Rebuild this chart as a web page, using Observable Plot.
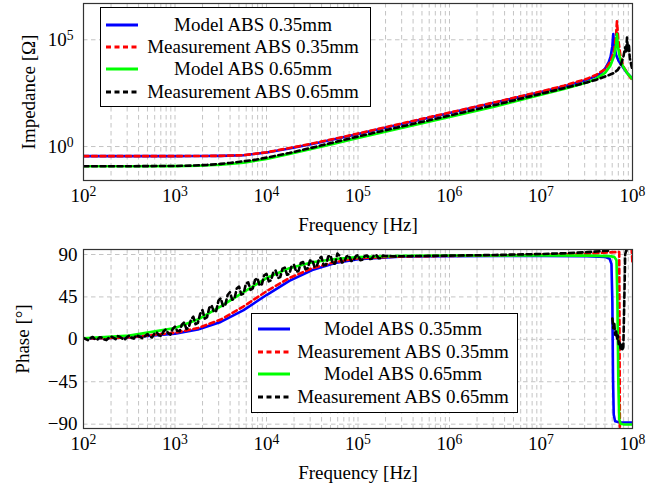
<!DOCTYPE html>
<html><head><meta charset="utf-8">
<script src="https://cdn.jsdelivr.net/npm/d3@7"></script>
<script src="https://cdn.jsdelivr.net/npm/@observablehq/plot@0.6"></script>
<style>
body{margin:0;background:#fff;}
#wrap{position:relative;width:664px;height:486px;font-family:"Liberation Serif",serif;overflow:hidden;}
.panel{position:absolute;left:0;}
.legend{position:absolute;background:#fff;border:1px solid #000;box-sizing:border-box;font-size:19px;color:#000;}
.legend .row{position:absolute;left:0;right:0;height:22px;}
.legend svg{position:absolute;top:0;}
.legend span{position:absolute;top:0;line-height:22px;white-space:nowrap;transform:translateX(-50%);}
</style></head>
<body><div id="wrap"></div>
<script>
// ---------- data ----------
const seriesNames = ["Model ABS 0.35mm", "Measurement ABS 0.35mm", "Model ABS 0.65mm", "Measurement ABS 0.65mm"];
const seriesColors = ["#0000ff", "#ff0000", "#00ff00", "#000000"];
const seriesDash = [null, "5,3.5", null, "5,3.5"];
const xTickExponents = [2, 3, 4, 5, 6, 7, 8];
const impedanceTickExponents = [0, 5];
const phaseTicks = [-90, -45, 0, 45, 90];

// Impedance |Z| [Ohm] vs log10(frequency)
const zLogF_model035 = [2, 2.5, 3, 3.25, 3.5, 3.75, 4, 4.25, 4.5, 4.75, 5, 5.5, 6, 6.5, 7, 7.25, 7.5, 7.6, 7.65, 7.7, 7.74, 7.76, 7.78, 7.79, 7.80, 7.82, 7.85, 7.89, 7.94, 8];
const zModel035 = [0.355, 0.355, 0.356, 0.358, 0.365, 0.389, 0.525, 0.813, 1.32, 2.24, 3.89, 12.0, 37.2, 115, 355, 646, 1318, 1995, 2692, 4467, 8913, 15849, 50119, 186209, 56234, 19953, 10000, 5623, 2818, 1514];

const zLogF_meas035 = [2, 2.5, 3, 3.5, 3.75, 4, 4.25, 4.5, 4.75, 5, 5.5, 6, 6.5, 7, 7.25, 7.5, 7.6, 7.7, 7.76, 7.8, 7.82, 7.83, 7.845, 7.87, 7.9, 7.95, 8];
const zMeas035 = [0.355, 0.355, 0.356, 0.366, 0.394, 0.537, 0.851, 1.38, 2.34, 4.07, 12.6, 38.9, 120, 380, 708, 1479, 2239, 4169, 9550, 31623, 158489, 724436, 100000, 15849, 5623, 2512, 1202];

const zLogF_model065 = [2, 2.5, 3, 3.25, 3.5, 3.75, 4, 4.25, 4.5, 4.75, 5, 5.5, 6, 6.5, 7, 7.25, 7.5, 7.6, 7.7, 7.76, 7.8, 7.82, 7.83, 7.84, 7.86, 7.89, 7.94, 8];
const zModel065 = [0.120, 0.120, 0.121, 0.126, 0.140, 0.174, 0.263, 0.447, 0.794, 1.41, 2.51, 7.76, 24.0, 75.9, 269, 501, 1000, 1479, 2818, 6310, 17783, 56234, 186209, 50119, 15849, 6310, 2818, 1445];

const zLogF_meas065 = [2, 2.5, 3, 3.2, 3.35, 3.5, 3.6, 3.75, 3.85, 4, 4.25, 4.5, 4.75, 5, 5.5, 6, 6.5, 7, 7.25, 7.5, 7.6, 7.7, 7.75, 7.8, 7.84, 7.87, 7.9, 7.92, 7.93, 7.94, 7.95, 7.96, 7.97, 7.98, 7.99, 8];
const zMeas065 = [0.120, 0.120, 0.123, 0.129, 0.138, 0.155, 0.170, 0.204, 0.229, 0.302, 0.501, 0.891, 1.62, 2.95, 9.12, 28.2, 89.1, 295, 537, 1000, 1318, 1905, 2291, 2818, 3981, 6310, 15849, 44668, 25119, 125893, 31623, 63096, 14125, 8913, 5623, 3981];

// Phase [deg] vs log10(frequency)
const pLogF_model035 = [2, 2.5, 3, 3.25, 3.5, 3.75, 4, 4.25, 4.5, 4.75, 5, 5.5, 6, 6.5, 7, 7.5, 7.7, 7.75, 7.77, 7.78, 7.787, 7.795, 7.81, 7.85, 8];
const pModel035 = [0.6, 1.9, 6, 10.5, 18.5, 31, 47, 62, 73.5, 81, 85, 87.8, 88.3, 88.4, 88.4, 88.2, 87.5, 85.5, 80, 40, -40, -80, -87, -88, -88.3];

const pLogF_meas035 = [2, 2.5, 3, 3.25, 3.5, 3.75, 4, 4.25, 4.5, 4.75, 5, 5.5, 6, 6.5, 7, 7.5, 7.7, 7.8, 7.855, 7.862, 7.93, 7.99, 8];
const pMeas035 = [0.7, 2.2, 7, 12, 21, 35, 51, 65, 75.5, 82, 86, 88, 88.5, 89, 89.8, 90.8, 92, 92.5, 92.5, -95.5, NaN, 97, 80];

const pLogF_model065 = [2, 2.5, 3, 3.25, 3.5, 3.75, 4, 4.25, 4.5, 4.75, 5, 5.5, 6, 7, 7.5, 7.75, 7.8, 7.825, 7.835, 7.845, 7.855, 7.87, 7.9, 8];
const pModel065 = [1.2, 3.9, 12, 21, 35, 50, 65, 75.5, 81.7, 85.3, 87.3, 88.6, 89, 89, 88.8, 88.3, 87.5, 84, 40, -45, -85, -89.5, -90.2, -90.3];

const pLogF_meas065 = [
  2.000, 2.025, 2.050, 2.075, 2.100, 2.125, 2.150, 2.175, 2.200, 2.225, 2.250, 2.275, 2.300, 2.325, 2.350, 2.375, 2.400, 2.425, 2.450, 2.475,
  2.500, 2.525, 2.550, 2.575, 2.600, 2.625, 2.650, 2.675, 2.700, 2.725, 2.750, 2.775, 2.800, 2.825, 2.850, 2.875, 2.900, 2.925, 2.950, 2.975,
  3.000, 3.025, 3.050, 3.075, 3.100, 3.125, 3.150, 3.175, 3.200, 3.225, 3.250, 3.275, 3.300, 3.325, 3.350, 3.375, 3.400, 3.425, 3.450, 3.475,
  3.500, 3.525, 3.550, 3.575, 3.600, 3.625, 3.650, 3.675, 3.700, 3.725, 3.750, 3.775, 3.800, 3.825, 3.850, 3.875, 3.900, 3.925, 3.950, 3.975,
  4.000, 4.025, 4.050, 4.075, 4.100, 4.125, 4.150, 4.175, 4.200, 4.225, 4.250, 4.275, 4.300, 4.325, 4.350, 4.375, 4.400, 4.425, 4.450, 4.475,
  4.500, 4.525, 4.550, 4.575, 4.600, 4.625, 4.650, 4.675, 4.700, 4.725, 4.750, 4.775, 4.800, 4.825, 4.850, 4.875, 4.900, 4.925, 4.950, 4.975,
  5.000, 5.025, 5.050, 5.075, 5.100, 5.125, 5.150, 5.175, 5.200, 5.225, 5.250, 5.275, 5.300,
  5.40, 5.60, 6.00, 6.50, 7.00, 7.30, 7.50, 7.65, 7.75, 7.77,
  7.78, 7.79, 7.80, 7.81, 7.82, 7.83, 7.84, 7.85, 7.86, 7.87, 7.88, 7.89, 7.90, 7.91, 7.92, 7.93, 7.95];
const pMeas065 = [
  1.5, 0.3, -1.0, 1.2, 2.5, 0.0, -0.5, 2.2, 1.8, -0.2, -0.8, 1.5, 3.0, 1.8, 0.2, 3.4, 2.6, 0.6, -0.4, 2.4,
  4.0, 1.6, 0.8, 4.4, 3.5, 2.2, 1.0, 3.6, 5.5, 2.8, 2.0, 6.0, 7.5, 4.2, 3.5, 8.5, 10.5, 6.5, 5.0, 11.0,
  13.5, 9.0, 8.5, 15.5, 18.0, 11.0, 12.5, 21.0, 24.0, 16.0, 17.5, 27.0, 31.0, 22.0, 23.5, 33.5, 36.0, 29.0, 30.0, 41.0,
  43.5, 35.0, 36.5, 47.0, 50.0, 42.0, 43.0, 54.0, 56.0, 47.5, 48.5, 59.0, 60.5, 52.5, 54.0, 63.0, 65.0, 57.0, 58.5, 68.0,
  69.5, 61.5, 62.5, 71.5, 73.0, 65.0, 66.0, 75.0, 76.0, 68.5, 69.5, 78.0, 79.0, 71.5, 72.5, 81.0, 82.0, 74.5, 75.5, 83.5,
  84.0, 77.0, 77.5, 85.5, 87.5, 78.5, 79.0, 88.0, 89.0, 80.0, 80.5, 91.0, 88.5, 81.5, 82.0, 88.0, 89.0, 83.0, 83.5, 88.0,
  89.5, 84.0, 84.5, 88.5, 89.0, 85.0, 85.5, 89.0, 89.5, 86.0, 86.0, 89.0, 88.5,
  88.0, 88.3, 88.8, 89.5, 90.5, 91.5, 92.5, 93.5, 94.0, NaN,
  22, 12, 18, 5, 10, 0, 4, -5, -2, -10, -6, -12, -8, 40, 90, 94, 94];

// ---------- build tables ----------
const toRows = (logF, vals) => logF.map((lf, i) => ({f: Math.pow(10, lf), v: vals[i]}));
const zSeries = [toRows(zLogF_model035, zModel035), toRows(zLogF_meas035, zMeas035), toRows(zLogF_model065, zModel065), toRows(zLogF_meas065, zMeas065)];
const pSeries = [toRows(pLogF_model035, pModel035), toRows(pLogF_meas035, pMeas035), toRows(pLogF_model065, pModel065), toRows(pLogF_meas065, pMeas065)];

const xTicks = xTickExponents.map(e => Math.pow(10, e));
const xMinor = [];
for (let e = xTickExponents[0]; e < xTickExponents[xTickExponents.length - 1]; e++)
  for (let m = 2; m <= 9; m++) xMinor.push(m * Math.pow(10, e));
const powFmt = d => "10^" + Math.round(Math.log10(d));

const gridStyle = {stroke: "#c4c4c4", strokeDasharray: "4.5,3.5", strokeWidth: 1};
const lineMarks = (series) => series.map((rows, i) => Plot.line(rows, {
  x: "f", y: "v", stroke: seriesColors[i], strokeWidth: 2.6,
  strokeDasharray: seriesDash[i] || undefined, clip: true
}));

const common = {
  width: 664, marginLeft: 83, marginRight: 32,
  style: {fontFamily: "'Liberation Serif', serif", fontSize: "19px", color: "#000", background: "transparent", overflow: "visible"}
};

const topPlot = Plot.plot({
  ...common, height: 240, marginTop: 3, marginBottom: 60,
  x: {type: "log", domain: [1e2, 1e8], ticks: xTicks, tickFormat: powFmt, tickSize: 0, tickPadding: 8,
      label: "Frequency [Hz]", labelAnchor: "center", labelOffset: 50, labelArrow: "none"},
  y: {type: "log", domain: [0.0257, 5.0e6], ticks: impedanceTickExponents.map(e => Math.pow(10, e)), tickFormat: powFmt,
      tickSize: 0, tickPadding: 10, label: "Impedance [Ω]", labelAnchor: "center", labelOffset: 62, labelArrow: "none"},
  marks: [
    Plot.ruleX(xMinor, gridStyle),
    Plot.ruleX(xTicks, gridStyle),
    Plot.ruleY(impedanceTickExponents.map(e => Math.pow(10, e)), gridStyle),
    ...lineMarks(zSeries),
    Plot.frame({stroke: "#333", strokeWidth: 1.2})
  ]
});

const bottomPlot = Plot.plot({
  ...common, height: 246, marginTop: 9, marginBottom: 58,
  x: {type: "log", domain: [1e2, 1e8], ticks: xTicks, tickFormat: powFmt, tickSize: 0, tickPadding: 8,
      label: "Frequency [Hz]", labelAnchor: "center", labelOffset: 50, labelArrow: "none"},
  y: {domain: [-94.6, 95.3], ticks: phaseTicks, tickSize: 0, tickPadding: 6,
      label: "Phase [°]", labelAnchor: "center", labelOffset: 68, labelArrow: "none"},
  marks: [
    Plot.ruleX(xMinor, gridStyle),
    Plot.ruleX(xTicks, gridStyle),
    Plot.ruleY(phaseTicks, gridStyle),
    ...lineMarks(pSeries),
    Plot.frame({stroke: "#333", strokeWidth: 1.2})
  ]
});

// superscript exponents
const NS = "http://www.w3.org/2000/svg";
function supers(svg) {
  svg.querySelectorAll("text").forEach(t => {
    const m = /^10\^(-?\d+)$/.exec(t.textContent.trim());
    if (!m) return;
    t.textContent = "10";
    const ts = document.createElementNS(NS, "tspan");
    ts.setAttribute("dy", "-0.42em");
    ts.setAttribute("font-size", "0.72em");
    ts.textContent = m[1];
    t.appendChild(ts);
  });
}
supers(topPlot); supers(bottomPlot);

const wrap = document.getElementById("wrap");
topPlot.classList.add("panel"); topPlot.style.top = "0px";
bottomPlot.classList.add("panel"); bottomPlot.style.top = "240px";
wrap.appendChild(topPlot); wrap.appendChild(bottomPlot);

function legend(left, topY, w, h, rowYs, sx0, sx1, textX) {
  const box = document.createElement("div");
  box.className = "legend";
  Object.assign(box.style, {left: left + "px", top: topY + "px", width: w + "px", height: h + "px"});
  seriesNames.forEach((name, i) => {
    const row = document.createElement("div");
    row.className = "row";
    row.style.top = (rowYs[i] - 11) + "px";
    const s = document.createElementNS(NS, "svg");
    s.setAttribute("width", sx1 + 4); s.setAttribute("height", 22);
    const ln = document.createElementNS(NS, "line");
    ln.setAttribute("x1", sx0); ln.setAttribute("x2", sx1);
    ln.setAttribute("y1", 11); ln.setAttribute("y2", 11);
    ln.setAttribute("stroke", seriesColors[i]); ln.setAttribute("stroke-width", 3);
    if (seriesDash[i]) ln.setAttribute("stroke-dasharray", seriesDash[i]);
    s.appendChild(ln);
    row.appendChild(s);
    const sp = document.createElement("span");
    sp.textContent = name;
    sp.style.left = textX + "px";
    row.appendChild(sp);
    box.appendChild(row);
  });
  wrap.appendChild(box);
}
legend(100, 7, 271, 100, [17, 39, 61, 84], 5, 37, 152);
legend(251, 313, 267, 100, [15, 38, 60, 83], 6, 38, 151);
</script>
</body></html>
